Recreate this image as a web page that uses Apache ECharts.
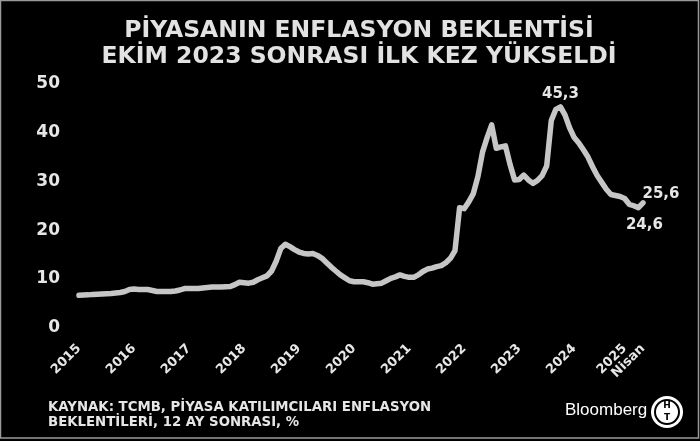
<!DOCTYPE html>
<html><head><meta charset="utf-8">
<script src="https://cdn.jsdelivr.net/npm/echarts@6/dist/echarts.min.js"></script>
<style>html,body{margin:0;padding:0;background:#000;}#c{width:700px;height:441px;}</style>
</head><body><div id="c"></div>
<script>
// ---- data ----
const titleLines = ['PİYASANIN ENFLASYON BEKLENTİSİ', 'EKİM 2023 SONRASI İLK KEZ YÜKSELDİ'];
const sourceLines = ['KAYNAK: TCMB, PİYASA KATILIMCILARI ENFLASYON', 'BEKLENTİLERİ, 12 AY SONRASI, %'];
const brandText = 'Bloomberg';
// monthly, Jan 2015 ... Apr 2025 (12-month-ahead CPI expectation, %)
const expectations = [
  6.6, 6.65, 6.7, 6.8, 6.85, 6.9, 6.95, 7.0, 7.1, 7.2, 7.4, 7.8,      // 2015
  7.9, 7.8, 7.8, 7.8, 7.6, 7.4, 7.4, 7.4, 7.4, 7.5, 7.7, 8.0,         // 2016
  8.0, 8.0, 8.0, 8.1, 8.2, 8.3, 8.3, 8.3, 8.35, 8.4, 8.8, 9.3,        // 2017
  9.2, 9.1, 9.3, 9.8, 10.2, 10.6, 11.6, 13.6, 16.2, 17.1, 16.6, 16.0, // 2018
  15.5, 15.2, 15.1, 15.2, 14.8, 14.2, 13.3, 12.4, 11.6, 10.8, 10.2, 9.6, // 2019
  9.4, 9.4, 9.4, 9.2, 8.9, 9.0, 9.1, 9.6, 10.1, 10.4, 10.8, 10.5,     // 2020
  10.3, 10.3, 10.8, 11.5, 12.0, 12.2, 12.5, 12.7, 13.3, 14.2, 15.8, 24.6, // 2021
  24.4, 25.8, 27.5, 31.0, 36.0, 39.0, 41.6, 36.8, 37.1, 37.3, 33.5, 30.3, // 2022
  30.4, 31.3, 30.3, 29.6, 30.2, 31.2, 33.2, 42.5, 44.8, 45.3, 43.6, 41.0, // 2023
  39.0, 37.9, 36.5, 35.0, 33.0, 31.2, 29.8, 28.4, 27.3, 27.1, 26.9, 26.5, // 2024
  25.3, 25.0, 24.6, 25.6                                               // 2025 (Oca-Nisan)
];
const yearLabels = ['2015','2016','2017','2018','2019','2020','2021','2022','2023','2024','2025'];
const lastMonthLabel = 'Nisan';
const annotatedIdx = [105, 122, 123];

// ---- chart ----
const TXT = '#e6e6e6';
const LINE = '#c6c6c6';
const FONT = '"DejaVu Sans", Verdana, sans-serif';
const lastIdx = expectations.length - 1;
const labelTicks = yearLabels.map((_, i) => i === yearLabels.length - 1 ? i * 12 - 1 : i * 12).concat([lastIdx]);
const fmt = v => v.toFixed(1).replace('.', ',');

const labelCfg = {
  105: { show: true, position: 'top', distance: 5 },
  122: { show: true, position: 'bottom', distance: 5, offset: [6, 5] },
  123: { show: true, position: 'top', distance: 5, offset: [18, 4] }
};

const seriesData = expectations.map((v, i) => {
  const item = { value: [i, v] };
  if (annotatedIdx.includes(i)) item.label = labelCfg[i];
  return item;
});

const chart = echarts.init(document.getElementById('c'), null, { renderer: 'canvas' });
chart.setOption({
  animation: false,
  backgroundColor: '#000',
  grid: { left: 79, right: 57, top: 84, bottom: 113.5 },
  xAxis: {
    type: 'value', min: 0, max: lastIdx,
    axisLine: { show: false }, axisTick: { show: false }, splitLine: { show: false },
    axisLabel: {
      customValues: labelTicks,
      rotate: 45, margin: 19,
      color: TXT, fontFamily: FONT, fontWeight: 'bold', fontSize: 13,
      formatter: v => {
        if (v === lastIdx) return lastMonthLabel;
        const k = labelTicks.indexOf(v);
        return k >= 0 ? yearLabels[k] : '';
      }
    }
  },
  yAxis: {
    type: 'value', min: 0, max: 50, interval: 10,
    axisLine: { show: false }, axisTick: { show: false }, splitLine: { show: false },
    axisLabel: { margin: 19, color: TXT, fontFamily: FONT, fontWeight: 'bold', fontSize: 17 }
  },
  series: [{
    type: 'line',
    data: seriesData,
    symbol: 'circle', symbolSize: 0, showSymbol: true, showAllSymbol: true,
    lineStyle: { color: LINE, width: 5.5, cap: 'round', join: 'round' },
    itemStyle: { color: LINE },
    label: {
      show: false, color: TXT, fontFamily: FONT, fontWeight: 'bold', fontSize: 15,
      formatter: p => fmt(p.value[1])
    },
    emphasis: { disabled: true },
    silent: true
  }],
  graphic: [
    { type: 'rect', shape: { x: 0.5, y: 0.5, width: 698, height: 437.5 },
      style: { fill: 'none', stroke: '#9a9a9a', lineWidth: 1.5 }, silent: true },
    { type: 'text', x: 359, y: 44,
      style: { text: titleLines.join('\n'), fill: '#e2e2e2', font: 'bold 23.5px ' + FONT,
               align: 'center', verticalAlign: 'middle', lineHeight: 26 } },
    { type: 'text', x: 48, y: 415,
      style: { text: sourceLines.join('\n'), fill: TXT, font: 'bold 13.3px ' + FONT,
               align: 'left', verticalAlign: 'middle', lineHeight: 14.5 } },
    { type: 'text', x: 565, y: 410,
      style: { text: brandText, fill: '#ffffff', font: '17px "Liberation Sans", Arial, sans-serif',
               align: 'left', verticalAlign: 'middle' } },
    { type: 'circle', shape: { cx: 667, cy: 412, r: 16 }, style: { fill: '#ffffff' } },
    { type: 'circle', shape: { cx: 667, cy: 412, r: 13 }, style: { fill: '#000000' } },
    { type: 'circle', shape: { cx: 667, cy: 412, r: 11 }, style: { fill: '#ffffff' } },
    { type: 'text', x: 667, y: 406,
      style: { text: 'H', fill: '#000', font: 'bold 9px ' + FONT, align: 'center', verticalAlign: 'middle' } },
    { type: 'text', x: 667, y: 418,
      style: { text: 'T', fill: '#000', font: 'bold 9px ' + FONT, align: 'center', verticalAlign: 'middle' } }
  ]
});
</script></body></html>
